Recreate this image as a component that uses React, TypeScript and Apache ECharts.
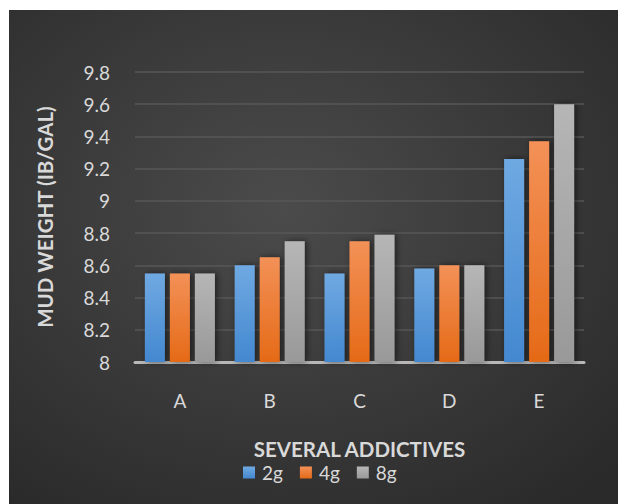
import React, { useEffect, useRef } from "react";
import * as echarts from "echarts";

const categories = ["A", "B", "C", "D", "E"];
const seriesNames = ["2g", "4g", "8g"];
const values2g = [8.55, 8.6, 8.55, 8.58, 9.26];
const values4g = [8.55, 8.65, 8.75, 8.6, 9.37];
const values8g = [8.55, 8.75, 8.79, 8.6, 9.6];
const yTicks = { min: 8, max: 9.8, interval: 0.2 };

const FONT = "Lato, 'Open Sans', sans-serif";

function grad(top: string, bottom: string) {
  return new echarts.graphic.LinearGradient(0, 0, 0, 1, [
    { offset: 0, color: top },
    { offset: 1, color: bottom },
  ]);
}

export default function App() {
  const ref = useRef<HTMLDivElement>(null);
  useEffect(() => {
    if (!ref.current) return;
    const chart = echarts.init(ref.current, null, { renderer: "svg" });
    const colors = [
      grad("#6fa9e2", "#4488d0"),
      grad("#f39157", "#e56a17"),
      grad("#b6b6b6", "#999999"),
    ];
    const data = [values2g, values4g, values8g];
    chart.setOption({
      animation: false,
      backgroundColor: new echarts.graphic.RadialGradient(0.45, 0.4, 0.75, [
        { offset: 0, color: "#4b4b4b" },
        { offset: 1, color: "#2a2a2a" },
      ]),
      grid: { left: 126, right: 34, top: 62, bottom: 142, containLabel: false },
      legend: {
        left: 229,
        top: 448,
        icon: "rect",
        itemWidth: 12,
        itemHeight: 12,
        itemGap: 17,
        data: seriesNames,
        textStyle: { color: "#d9d9d9", fontSize: 19, lineHeight: 17, fontFamily: FONT, padding: [0, 0, 0, 2] },
      },
      xAxis: {
        type: "category",
        data: categories,
        name: "SEVERAL ADDICTIVES",
        nameLocation: "middle",
        nameGap: 78,
        nameTextStyle: { color: "#d9d9d9", fontSize: 20.5, lineHeight: 17, fontWeight: "bold", fontFamily: FONT },
        axisLine: { lineStyle: { color: "#b8b8b8", width: 3 } },
        axisTick: { show: false },
        axisLabel: { color: "#d9d9d9", fontSize: 19, margin: 29, fontFamily: FONT },
      },
      yAxis: {
        type: "value",
        min: yTicks.min,
        max: yTicks.max,
        interval: yTicks.interval,
        name: "MUD WEIGHT (IB/GAL)",
        nameLocation: "middle",
        nameGap: 80,
        nameRotate: 90,
        nameTextStyle: { color: "#d9d9d9", fontSize: 20.5, fontWeight: "bold", fontFamily: FONT },
        axisLine: { show: false },
        axisTick: { show: false },
        splitLine: { lineStyle: { color: "#575757", width: 1.5 } },
        axisLabel: {
          color: "#d9d9d9",
          fontSize: 19,
          margin: 25,
          fontFamily: FONT,
          formatter: (v: number) => String(Math.round(v * 10) / 10),
        },
      },
      series: seriesNames.map((name, i) => ({
        name,
        type: "bar",
        data: data[i],
        barWidth: 20,
        barGap: "25%",
        itemStyle: {
          color: colors[i],
          shadowColor: "rgba(0,0,0,0.55)",
          shadowBlur: 6,
          shadowOffsetX: 2,
          shadowOffsetY: 0,
        },
      })),
    });
    return () => chart.dispose();
  }, []);
  return (
    <div
      ref={ref}
      style={{ position: "absolute", left: 9, top: 10, width: 609, height: 494 }}
    />
  );
}
